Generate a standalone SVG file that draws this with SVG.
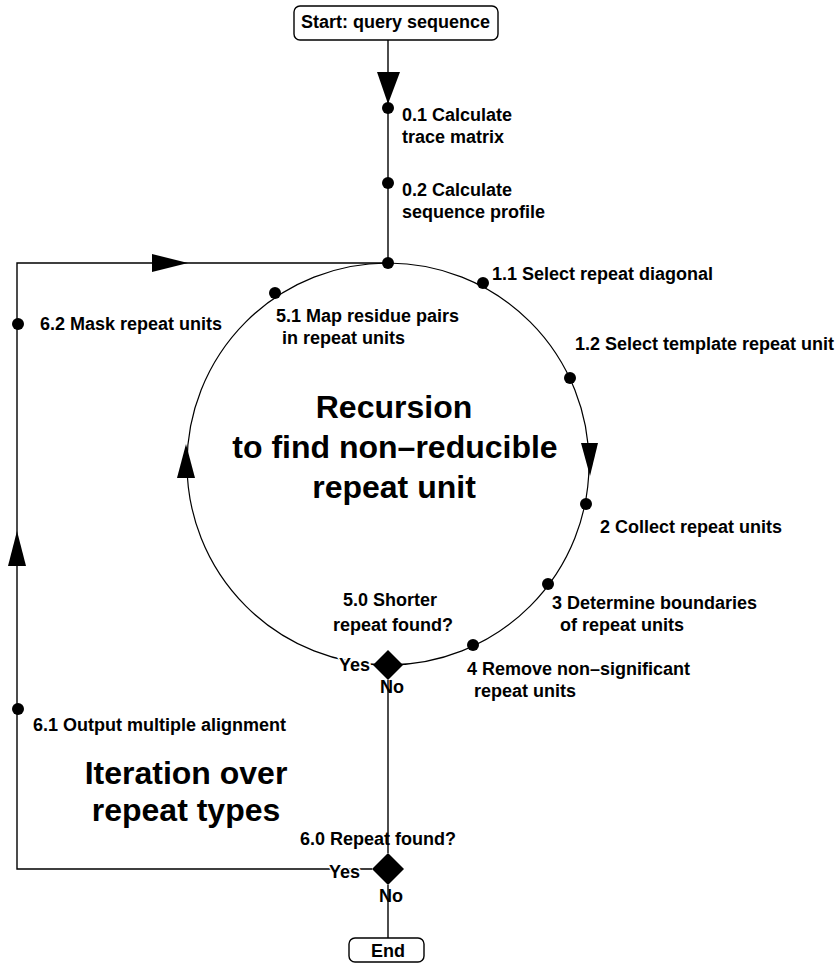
<svg xmlns="http://www.w3.org/2000/svg" width="838" height="964" viewBox="0 0 838 964">
<style>
.lbl{font-family:"Liberation Sans",Arial,sans-serif;font-weight:bold;font-size:18px;fill:#000}
.big{font-family:"Liberation Sans",Arial,sans-serif;font-weight:bold;font-size:32px;fill:#000;text-anchor:middle}
.ln{fill:none;stroke:#000;stroke-width:1.4}
.arc{fill:none;stroke:#000;stroke-width:1.2}
.dot{fill:#000}
.box{fill:#fff;stroke:#000;stroke-width:1.4}
.halo{paint-order:stroke;stroke:#fff;stroke-width:3px}
</style>
<rect width="838" height="964" fill="#fff"/>
<g id="connectors">
  <line class="ln" x1="388" y1="40" x2="388" y2="263"/>
  <polyline class="ln" points="388,263 17,263 17,869 372,869"/>
  <circle class="arc" cx="388" cy="464" r="201"/>
  <line class="ln" x1="388" y1="680" x2="388" y2="853"/>
  <line class="ln" x1="388" y1="885" x2="388" y2="938"/>
  <polygon points="377,72 400,72 388,104" fill="#000"/>
  <polygon points="152,254 152,272 188,263" fill="#000"/>
  <polygon points="8,566 26,566 17,531" fill="#000"/>
  <polygon points="581,443 598,443 590,476" fill="#000"/>
  <polygon points="177,478 195,478 186,444" fill="#000"/>
</g>
<g id="start">
  <rect class="box" x="294" y="6" width="204" height="34" rx="6"/>
  <text class="lbl" x="490" y="28" text-anchor="end">Start: query sequence</text>
</g>
<g id="n01">
  <circle class="dot" cx="388" cy="108" r="6"/>
  <text class="lbl" x="402" y="121">0.1 Calculate</text>
  <text class="lbl" x="402" y="143">trace matrix</text>
</g>
<g id="n02">
  <circle class="dot" cx="388" cy="183" r="6"/>
  <text class="lbl" x="402" y="196">0.2 Calculate</text>
  <text class="lbl" x="402" y="218">sequence profile</text>
</g>
<g id="top">
  <circle class="dot" cx="388" cy="263" r="6"/>
</g>
<g id="n11">
  <circle class="dot" cx="483" cy="283" r="6"/>
  <text class="lbl" x="492" y="280">1.1 Select repeat diagonal</text>
</g>
<g id="n12">
  <circle class="dot" cx="570" cy="378" r="6"/>
  <text class="lbl" x="575" y="350">1.2 Select template repeat unit</text>
</g>
<g id="n2">
  <circle class="dot" cx="586" cy="504" r="6"/>
  <text class="lbl" x="600" y="533">2 Collect repeat units</text>
</g>
<g id="n3">
  <circle class="dot" cx="548" cy="584" r="6"/>
  <text class="lbl" x="552" y="609">3 Determine boundaries</text>
  <text class="lbl" x="560" y="631">of repeat units</text>
</g>
<g id="n4">
  <circle class="dot" cx="473" cy="645" r="6"/>
  <text class="lbl" x="467" y="675">4 Remove non–significant</text>
  <text class="lbl" x="474" y="697">repeat units</text>
</g>
<g id="n50">
  <polygon points="388,650 403,665 388,680 373,665" fill="#000"/>
  <text class="lbl" x="390" y="606" text-anchor="middle">5.0 Shorter</text>
  <text class="lbl" x="393" y="631" text-anchor="middle">repeat found?</text>
  <text class="lbl halo" x="370" y="671" text-anchor="end">Yes</text>
  <text class="lbl" x="380" y="693">No</text>
</g>
<g id="n51">
  <circle class="dot" cx="275" cy="293" r="6"/>
  <text class="lbl" x="276" y="322">5.1 Map residue pairs</text>
  <text class="lbl" x="282" y="344">in repeat units</text>
</g>
<g id="n62">
  <circle class="dot" cx="18" cy="324" r="6"/>
  <text class="lbl" x="40" y="330">6.2 Mask repeat units</text>
</g>
<g id="n61">
  <circle class="dot" cx="18" cy="709" r="6"/>
  <text class="lbl" x="33" y="731">6.1 Output multiple alignment</text>
</g>
<g id="title-recursion">
  <text class="big" x="394" y="418">Recursion</text>
  <text class="big" x="395" y="458">to find non–reducible</text>
  <text class="big" x="394" y="498">repeat unit</text>
</g>
<g id="title-iteration">
  <text class="big" x="186" y="784">Iteration over</text>
  <text class="big" x="186" y="821">repeat types</text>
</g>
<g id="n60">
  <polygon points="388,853 404,869 388,885 372,869" fill="#000"/>
  <text class="lbl" x="300" y="845">6.0 Repeat found?</text>
  <text class="lbl halo" x="360" y="878" text-anchor="end">Yes</text>
  <text class="lbl" x="379" y="902">No</text>
</g>
<g id="end">
  <rect class="box" x="349" y="938" width="75" height="24" rx="6"/>
  <text class="lbl" x="388" y="957" text-anchor="middle">End</text>
</g>
</svg>
